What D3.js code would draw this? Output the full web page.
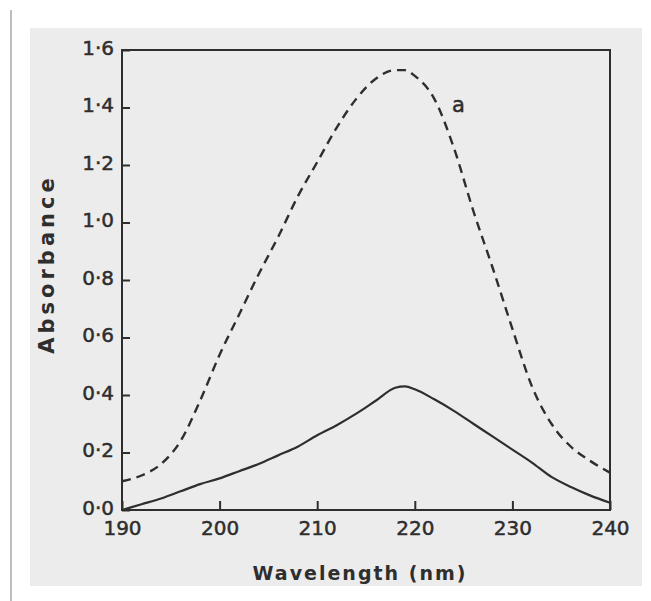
<!DOCTYPE html>
<html>
<head>
<meta charset="utf-8">
<script src="https://cdn.jsdelivr.net/npm/d3@7"></script>
<style>
  body { margin: 0; background: #fff; }
  svg { display: block; }
</style>
</head>
<body>
<div id="chart"></div>
<script>
// Values
const wavelengths = [190, 192, 194, 196, 198, 200, 202, 204, 206, 208, 210, 212, 214, 216, 218, 219, 220, 222, 224, 226, 228, 230, 232, 234, 236, 238, 240];
const curveA = [0.10, 0.12, 0.16, 0.24, 0.38, 0.54, 0.68, 0.82, 0.95, 1.09, 1.21, 1.33, 1.43, 1.50, 1.53, 1.53, 1.51, 1.43, 1.26, 1.04, 0.84, 0.63, 0.43, 0.30, 0.22, 0.17, 0.13];
const curveB = [0.00, 0.02, 0.04, 0.065, 0.09, 0.11, 0.135, 0.16, 0.19, 0.22, 0.26, 0.295, 0.335, 0.38, 0.425, 0.43, 0.42, 0.385, 0.345, 0.30, 0.255, 0.21, 0.165, 0.115, 0.08, 0.05, 0.025];
const xTicks = [190, 200, 210, 220, 230, 240];
const yTicks = [0.0, 0.2, 0.4, 0.6, 0.8, 1.0, 1.2, 1.4, 1.6];

const W = 651, H = 601;
const margin = { top: 50, right: 41, bottom: 91, left: 122 };
const width = W - margin.left - margin.right;
const height = H - margin.top - margin.bottom;
const ink = '#2e2e2e';
const font = 'DejaVu Sans, sans-serif';

const svg = d3.select('#chart').append('svg')
    .attr('width', W)
    .attr('height', H);

// page and scanned sheet
svg.append('rect').attr('width', W).attr('height', H).attr('fill', '#ffffff');
svg.append('line')
    .attr('x1', 11).attr('x2', 11).attr('y1', 10).attr('y2', H)
    .attr('stroke', '#bdbdbd').attr('stroke-width', 2);
svg.append('rect')
    .attr('x', 30).attr('y', 28).attr('width', 612).attr('height', 558)
    .attr('fill', '#ececec');

const g = svg.append('g')
    .attr('transform', `translate(${margin.left},${margin.top})`);

const x = d3.scaleLinear().domain([190, 240]).range([0, width]);
const y = d3.scaleLinear().domain([0, 1.6]).range([height, 0]);

const fmt = d => d3.format('.1f')(d).replace('.', '\u00b7');

// Y axis, ticks pointing inward
const yAxis = g.append('g')
    .call(d3.axisLeft(y).tickValues(yTicks).tickSizeInner(-8).tickSizeOuter(0).tickPadding(8).tickFormat(fmt));
yAxis.select('.domain').remove();
yAxis.selectAll('line').attr('stroke', ink).attr('stroke-width', 2);
yAxis.selectAll('text')
    .attr('fill', ink).attr('stroke', ink).attr('stroke-width', 0.5)
    .style('font-family', font).style('font-size', '20px')
    .attr('dy', '0.2em');

// X axis, ticks pointing up
const xAxis = g.append('g')
    .attr('transform', `translate(0,${height})`)
    .call(d3.axisBottom(x).tickValues(xTicks).tickSizeInner(-9).tickSizeOuter(0).tickPadding(6).tickFormat(d3.format('d')));
xAxis.select('.domain').remove();
xAxis.selectAll('line').attr('stroke', ink).attr('stroke-width', 2);
xAxis.selectAll('text')
    .attr('fill', ink).attr('stroke', ink).attr('stroke-width', 0.5)
    .style('font-family', font).style('font-size', '20px')
    .attr('dy', '0.95em');

// frame
g.append('rect')
    .attr('width', width).attr('height', height)
    .attr('fill', 'none').attr('stroke', ink).attr('stroke-width', 2);

const line = d3.line()
    .x((d, i) => x(wavelengths[i]))
    .y(d => y(d))
    .curve(d3.curveMonotoneX);

g.append('path')
    .datum(curveA)
    .attr('fill', 'none')
    .attr('stroke', ink)
    .attr('stroke-width', 2.4)
    .attr('stroke-dasharray', '9,6')
    .attr('d', line);

g.append('path')
    .datum(curveB)
    .attr('fill', 'none')
    .attr('stroke', ink)
    .attr('stroke-width', 2.2)
    .attr('d', line);

// curve label
g.append('text')
    .attr('x', x(223.8))
    .attr('y', y(1.385))
    .attr('fill', ink).attr('stroke', ink).attr('stroke-width', 0.5)
    .style('font-family', font).style('font-size', '21px')
    .text('a');

// axis titles
svg.append('text')
    .attr('x', 360)
    .attr('y', 580)
    .attr('text-anchor', 'middle')
    .attr('fill', ink)
    .style('font-family', font).style('font-size', '19px').style('font-weight', 'bold')
    .style('letter-spacing', '2px')
    .text('Wavelength (nm)');

svg.append('text')
    .attr('transform', `translate(54,264) rotate(-90)`)
    .attr('text-anchor', 'middle')
    .attr('fill', ink)
    .style('font-family', font).style('font-size', '21px').style('font-weight', 'bold')
    .style('letter-spacing', '4px')
    .text('Absorbance');
</script>
</body>
</html>
